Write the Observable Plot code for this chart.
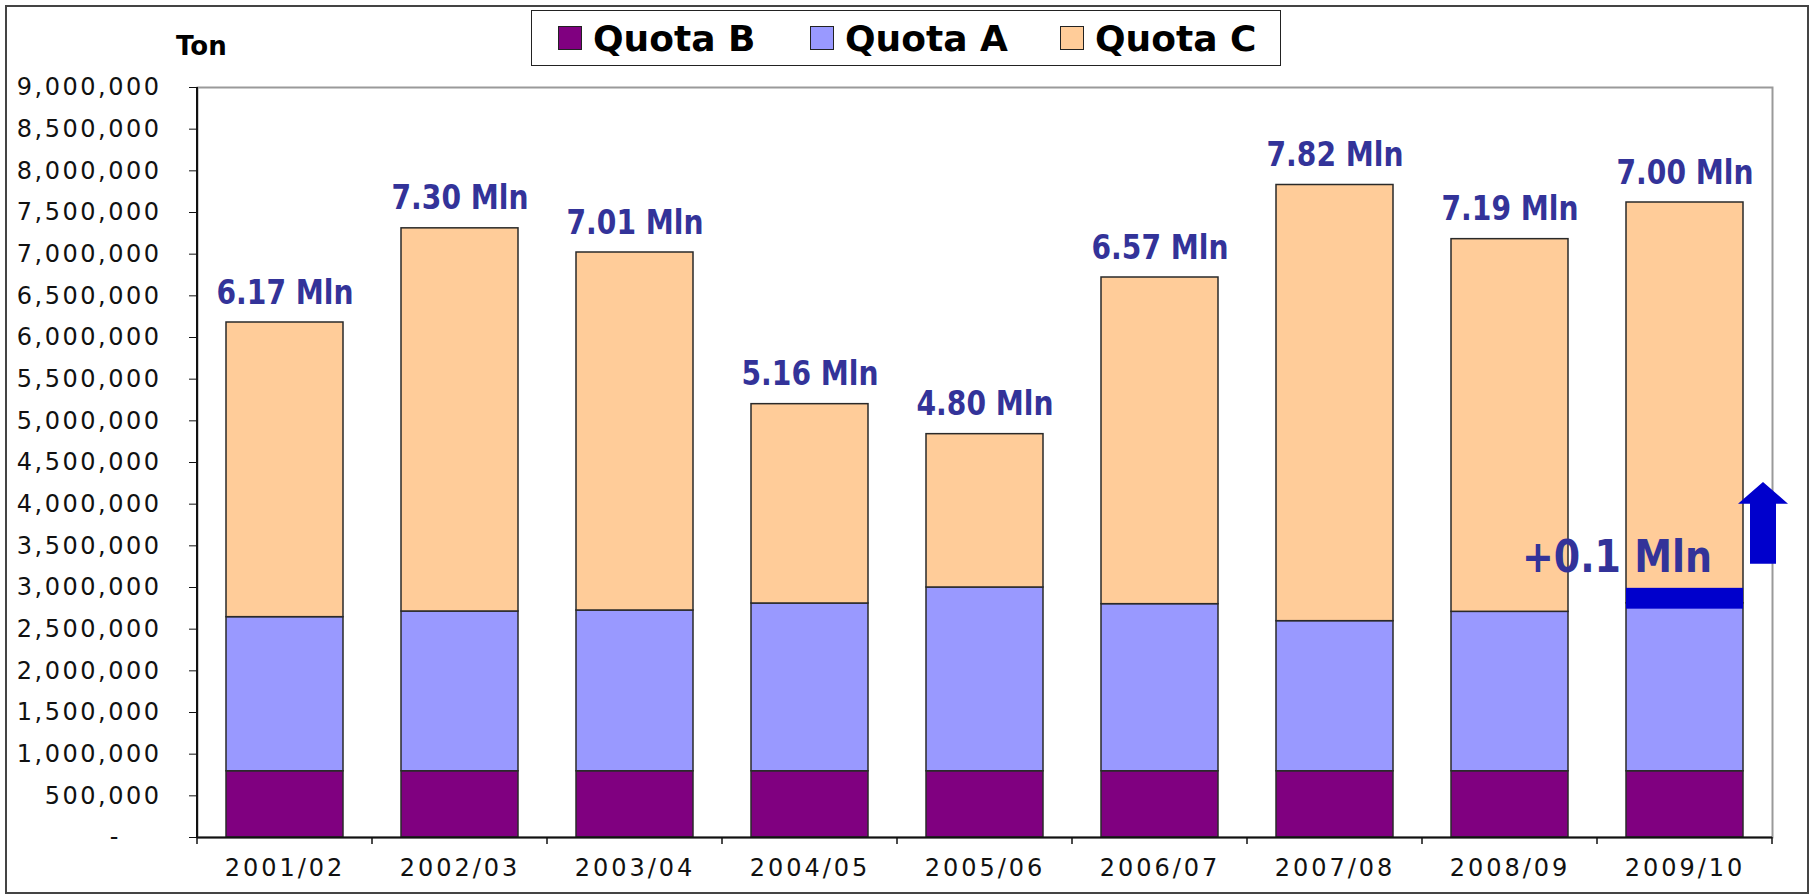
<!DOCTYPE html>
<html>
<head>
<meta charset="utf-8">
<script src="https://cdn.jsdelivr.net/npm/d3@7"></script>
<script src="https://cdn.jsdelivr.net/npm/@observablehq/plot@0.6"></script>
<style>
  html, body { margin: 0; padding: 0; background: #fff; }
  #wrap { position: relative; width: 1810px; height: 896px; font-family: "DejaVu Sans", Verdana, sans-serif; overflow: hidden; }
  #wrap svg { position: absolute; left: 0; top: 0; }
  #frame { position: absolute; left: 5px; top: 5px; width: 1800px; height: 885px; border: 2px solid #444; pointer-events: none; }
  #ton { position: absolute; left: 176px; top: 31px; font-weight: bold; font-size: 26px; color: #000; }
  #legend { position: absolute; left: 531px; top: 10px; width: 748px; height: 54px; border: 1.5px solid #222; background: #fff; }
  .li { position: absolute; top: 0; height: 54px; display: flex; align-items: center; font-weight: bold; font-size: 36px; color: #000; }
  .sw { width: 22px; height: 22px; border: 1.5px solid #222; margin-right: 11px; }
  g[aria-label="y-axis tick label"] text { letter-spacing: 2.5px; }
  g[aria-label="x-axis tick label"] text { letter-spacing: 3px; }
</style>
</head>
<body>
<div id="wrap"></div>
<script>
// ---- data ----
const seasons = ["2001/02", "2002/03", "2003/04", "2004/05", "2005/06", "2006/07", "2007/08", "2008/09", "2009/10"];
const seriesNames = ["Quota B", "Quota A", "Quota C"];
const seriesColors = ["#800080", "#9999FF", "#FFCC99"];
const quotaB = [795000, 795000, 795000, 795000, 795000, 795000, 795000, 795000, 795000];
const quotaA = [1849000, 1917000, 1929000, 2013000, 2205000, 2005000, 1801000, 1913000, 2015000];
const quotaC = [3536000, 4598000, 4296000, 2392000, 1840000, 3920000, 5234000, 4472000, 4810000];
const totalLabels = ["6.17 Mln", "7.30 Mln", "7.01 Mln", "5.16 Mln", "4.80 Mln", "6.57 Mln", "7.82 Mln", "7.19 Mln", "7.00 Mln"];
const yTicks = [0, 500000, 1000000, 1500000, 2000000, 2500000, 3000000, 3500000, 4000000, 4500000,
                5000000, 5500000, 6000000, 6500000, 7000000, 7500000, 8000000, 8500000, 9000000];
// annotation on the last season
const noteSeason = "2009/10";
const noteText = "+0.1 Mln";
const noteTextValue = 3190000;
const bandValues = [2740000, 2990000];           // dark blue highlight band
const arrowValues = [3280000, 4000000, 4260000]; // shaft bottom, head base, tip

// ---- build table ----
const rows = [];
seasons.forEach((s, i) => {
  rows.push({season: s, series: "Quota B", value: quotaB[i]});
  rows.push({season: s, series: "Quota A", value: quotaA[i]});
  rows.push({season: s, series: "Quota C", value: quotaC[i]});
});
const totals = seasons.map((s, i) => ({season: s, total: quotaB[i] + quotaA[i] + quotaC[i], label: totalLabels[i]}));

const fmt = d3.format(",");

// custom mark: black left axis line, category boundary ticks, block arrow
function extras(index, scales, values, dims) {
  const x = scales.x, y = scales.y;
  const dom = x.domain();
  const bw = x.bandwidth ? x.bandwidth() : 0;
  const step = x.step ? x.step() : (x(dom[1]) - x(dom[0]));
  const g = d3.create("svg:g");
  const top = dims.marginTop, bottom = dims.height - dims.marginBottom;
  g.append("line").attr("x1", dims.marginLeft).attr("x2", dims.marginLeft)
    .attr("y1", top).attr("y2", bottom + 1).attr("stroke", "#111").attr("stroke-width", 2);
  const y0 = y(0);
  const bounds = dom.map(d => x(d) + bw / 2 - step / 2);
  bounds.push(x(dom[dom.length - 1]) + bw / 2 + step / 2);
  bounds.forEach(b => {
    g.append("line").attr("x1", b).attr("x2", b).attr("y1", y0).attr("y2", y0 + 7)
      .attr("stroke", "#111").attr("stroke-width", 1.5);
  });
  const cx = x(noteSeason) + bw + 20;
  const yb = y(arrowValues[0]), yh = y(arrowValues[1]), yt = y(arrowValues[2]);
  const sw = 13, hw = 25;
  g.append("path")
    .attr("d", `M${cx},${yt}L${cx + hw},${yh}L${cx + sw},${yh}L${cx + sw},${yb}L${cx - sw},${yb}L${cx - sw},${yh}L${cx - hw},${yh}Z`)
    .attr("fill", "#0000CC");
  return g.node();
}

const chart = Plot.plot({
  width: 1810,
  height: 896,
  marginTop: 87,
  marginRight: 38,
  marginBottom: 59,
  marginLeft: 197,
  style: {fontFamily: "DejaVu Sans, Verdana, sans-serif", background: "transparent", color: "#111"},
  x: {type: "band", domain: seasons, paddingInner: 1 / 3, paddingOuter: 1 / 6, align: 0.5, label: null},
  y: {domain: [0, 9000000], label: null},
  color: {domain: seriesNames, range: seriesColors},
  marks: [
    Plot.frame({stroke: "#9a9a9a", strokeWidth: 2}),
    Plot.barY(rows, {x: "season", y: "value", fill: "series", stroke: "#2a2a2a", strokeWidth: 1.5}),
    Plot.barY([{season: noteSeason, y1: bandValues[0], y2: bandValues[1]}],
      {x: "season", y1: "y1", y2: "y2", fill: "#0000CC"}),
    Plot.ruleY([0], {stroke: "#111", strokeWidth: 2}),
    Plot.axisY(yTicks, {
      tickSize: 8, tickPadding: 28, fontSize: 24, stroke: "#111", fill: "#111",
      tickFormat: d => d === 0 ? "-\u00a0\u00a0\u00a0\u00a0" : fmt(d), label: null
    }),
    Plot.axisX({tickSize: 0, tickPadding: 21, fontSize: 24, fill: "#111", label: null}),
    Plot.text(totals, {
      x: "season", y: "total", text: "label",
      fill: "#333399", fontSize: 33, fontWeight: "bold", lineAnchor: "bottom", dy: -19
    }),
    Plot.text([{season: noteSeason, v: noteTextValue, t: noteText}], {
      x: "season", y: "v", text: "t",
      fill: "#333399", fontSize: 44, fontWeight: "bold", lineAnchor: "bottom", dx: -68
    }),
    extras
  ]
});

const wrap = document.getElementById("wrap");
wrap.appendChild(chart);

// narrow the bold annotation texts to the reference widths
chart.querySelectorAll("text").forEach(t => {
  const s = (t.textContent || "").trim();
  if (s === noteText) {
    t.setAttribute("textLength", "190");
    t.setAttribute("lengthAdjust", "spacingAndGlyphs");
  } else if (totalLabels.includes(s)) {
    t.setAttribute("textLength", "137");
    t.setAttribute("lengthAdjust", "spacingAndGlyphs");
  }
});

const ton = document.createElement("div");
ton.id = "ton"; ton.textContent = "Ton";
wrap.appendChild(ton);

const legend = document.createElement("div");
legend.id = "legend";
const legendLeft = [26, 278, 528];
seriesNames.forEach((name, i) => {
  const item = document.createElement("div");
  item.className = "li";
  item.style.left = legendLeft[i] + "px";
  const sw = document.createElement("div");
  sw.className = "sw";
  sw.style.background = seriesColors[i];
  item.appendChild(sw);
  item.appendChild(document.createTextNode(name));
  legend.appendChild(item);
});
wrap.appendChild(legend);

const frame = document.createElement("div");
frame.id = "frame";
wrap.appendChild(frame);
</script>
</body>
</html>
